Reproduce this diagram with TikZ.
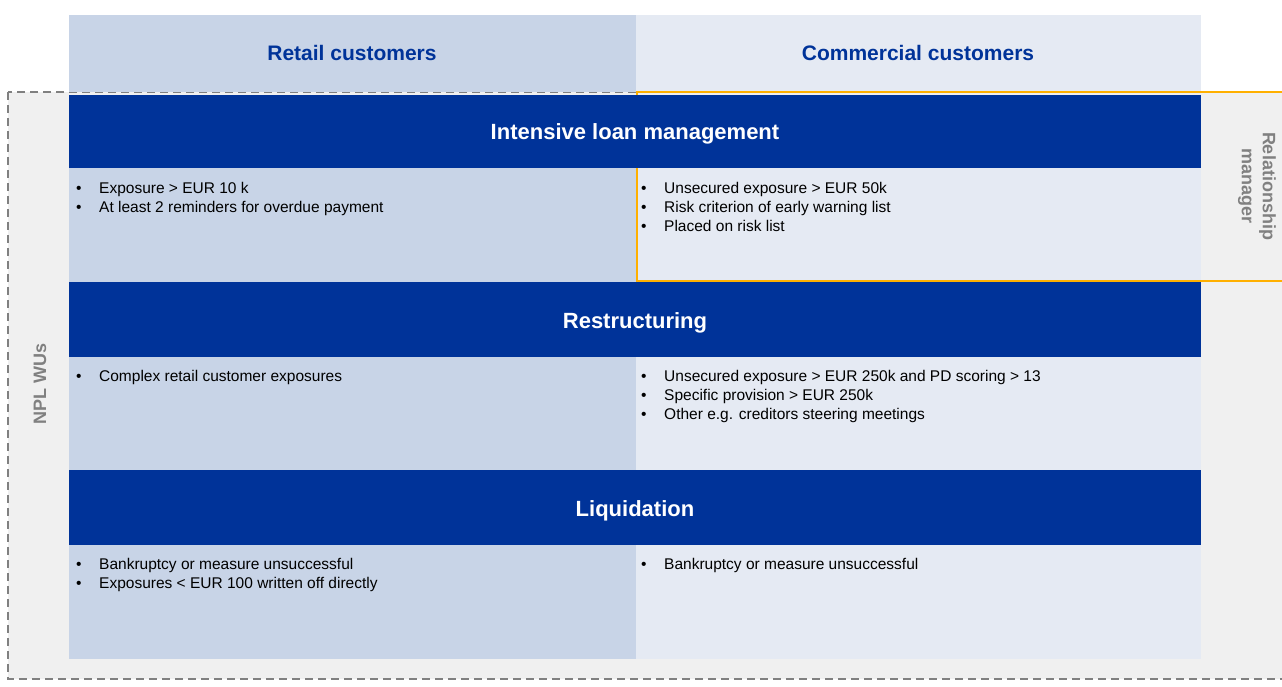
\documentclass[tikz,border=0pt]{standalone}
\usepackage{fontspec}
\setmainfont{Liberation Sans}
\usepackage{tikz}
\definecolor{bleu}{RGB}{0,51,153}
\definecolor{bleuclair}{RGB}{200,212,231}
\definecolor{bleupale}{RGB}{229,234,243}
\definecolor{gris}{RGB}{240,240,240}
\definecolor{grisfonce}{RGB}{128,128,128}
\definecolor{jaune}{RGB}{255,176,0}
\newcommand{\puce}{\makebox[23pt][l]{\textbullet}}

\begin{document}
\begin{tikzpicture}[x=1pt, y=-1pt]
	% STYLES
	\tikzstyle{npl} = [fill=gris, draw=grisfonce, dash pattern=on 8pt off 5pt, line width=1.5pt]
	\tikzstyle{barre} = [fill=bleu, draw=none]
	\tikzstyle{titre} = [text=bleu, font=\fontsize{21}{25}\selectfont\bfseries]
	\tikzstyle{nombarre} = [text=white, font=\fontsize{22}{26}\selectfont\bfseries]
	\tikzstyle{corps} = [anchor=north west, inner sep=0pt, align=left, font=\fontsize{15.5}{19}\selectfont]
	\tikzstyle{cote} = [text=grisfonce, align=center, font=\fontsize{18}{21}\selectfont\bfseries]
	\tikzstyle{conseiller} = [draw=jaune, line width=2pt]

	% CADRE
	\fill[white] (0,0) rectangle (1282,686);
	\useasboundingbox (0,0) rectangle (1282,686);
	\clip (0,0) rectangle (1282,686);

	% NPL WUs
	\draw[npl] (8,92) rectangle (1295,679);
	\node[cote, rotate=90] (nplwus) at (40,384) {NPL WUs};

	% COLONNES
	\fill[bleuclair] (69,15) rectangle (636,92);
	\fill[bleupale] (636,15) rectangle (1201,92);
	\node[titre] (retail) at (352,53) {Retail customers};
	\node[titre] (commercial) at (918,53) {Commercial customers};

	% CASES
	\foreach \y in {168, 357, 545} {
		\fill[bleuclair] (69,\y) rectangle (636,\y+114);
		\fill[bleupale] (636,\y) rectangle (1201,\y+114);
	}

	% RELATIONSHIP MANAGER
	\draw[conseiller] (637,92) rectangle (1295,281);
	\node[cote, rotate=-90] (manager) at (1257,186) {Relationship\\manager};

	% PHASES
	% intensive
	\fill[barre] (69,95) rectangle (1201,168);
	\node[nombarre] (intensive) at (635,133.5) {Intensive loan management};
	% restructuring
	\fill[barre] (69,282) rectangle (1201,357);
	\node[nombarre] (restructuring) at (635,322.5) {Restructuring};
	% liquidation
	\fill[barre] (69,470) rectangle (1201,545);
	\node[nombarre] (liquidation) at (635,510.5) {Liquidation};

	% CRITERES
	\node[corps] (retail1) at (76,182.5) {\puce Exposure > EUR 10 k\\ \puce At least 2 reminders for overdue payment};
	\node[corps] (commercial1) at (641,182.5) {\puce Unsecured exposure > EUR 50k\\ \puce Risk criterion of early warning list\\ \puce Placed on risk list};
	\node[corps] (retail2) at (76,370.5) {\puce Complex retail customer exposures};
	\node[corps] (commercial2) at (641,370.5) {\puce Unsecured exposure > EUR 250k and PD scoring > 13\\ \puce Specific provision > EUR 250k\\ \puce Other e.g. creditors steering meetings};
	\node[corps] (retail3) at (76,558.5) {\puce Bankruptcy or measure unsuccessful\\ \puce Exposures < EUR 100 written off directly};
	\node[corps] (commercial3) at (641,558.5) {\puce Bankruptcy or measure unsuccessful};
\end{tikzpicture}
\end{document}
